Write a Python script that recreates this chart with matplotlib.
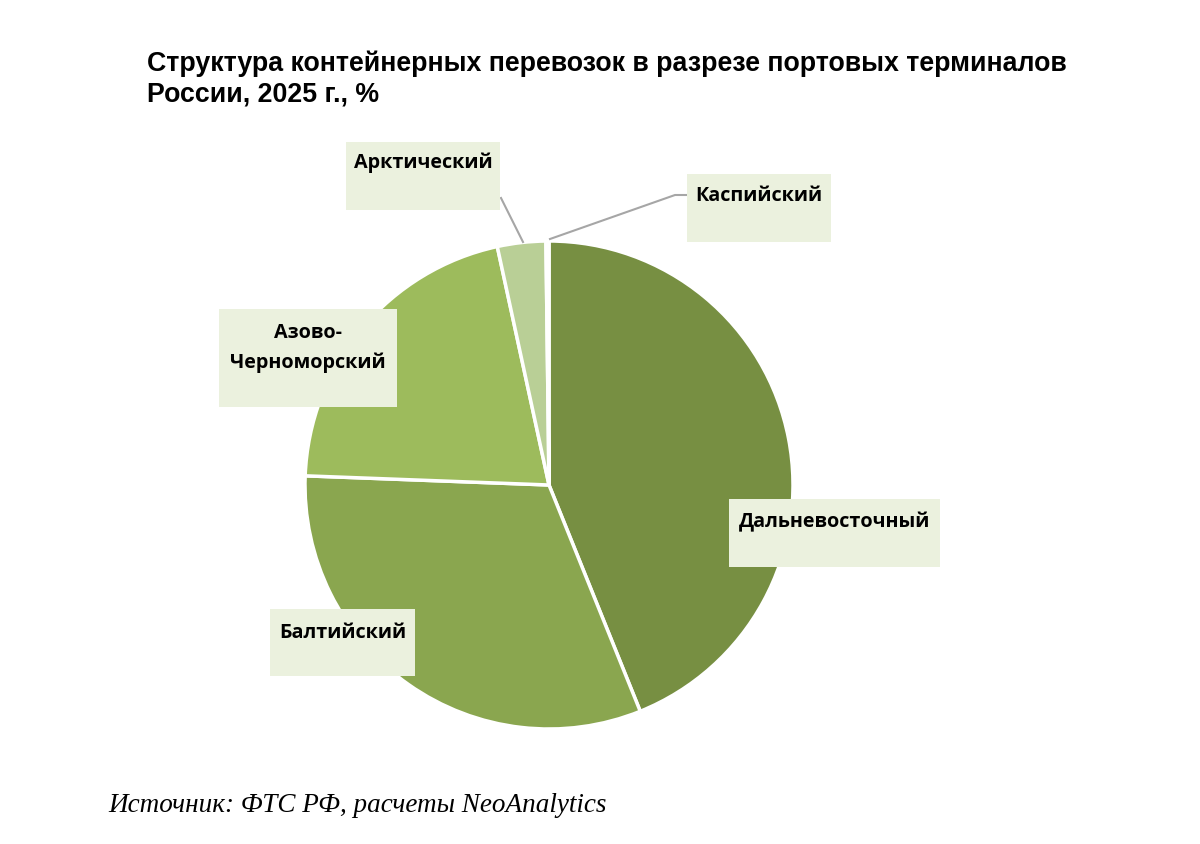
import matplotlib
matplotlib.use("Agg")
import matplotlib.pyplot as plt
from matplotlib.patches import Rectangle

# Data
categories = ["Дальневосточный", "Балтийский", "Азово-\nЧерноморский", "Арктический", "Каспийский"]
values = [43.9, 31.7, 21.0, 3.2, 0.2]
colors = ["#778F42", "#8AA64F", "#9DBB5C", "#B9CF96", "#D7E4BD"]
title = "Структура контейнерных перевозок в разрезе портовых терминалов\nРоссии, 2025 г., %"
source = "Источник: ФТС РФ, расчеты NeoAnalytics"

W, H = 1200, 845
fig = plt.figure(figsize=(W / 100, H / 100), dpi=100)
fig.patch.set_facecolor("white")

# pie axes in pixel geometry
cx, cy, r = 549, 486, 244
ax = fig.add_axes([(cx - r) / W, 1 - (cy + r) / H, 2 * r / W, 2 * r / H])
ax.pie(values, colors=colors, startangle=90, counterclock=False, radius=1.0,
       wedgeprops=dict(edgecolor="white", linewidth=2.5))
ax.set_xlim(-1, 1)
ax.set_ylim(-1, 1)
ax.set_aspect("auto")
ax.axis("off")

def px(x, y):
    return x / W, 1 - y / H

# Label boxes: (x0, y0, x1, y1) in pixels, text center y
boxes = {
    "Дальневосточный": (729, 500, 940, 568, 522),
    "Балтийский": (270, 610, 415, 677, 633),
    "Азово-\nЧерноморский": (219, 310, 397, 408, 348),
    "Арктический": (346, 143, 500, 211, 163),
    "Каспийский": (687, 175, 831, 243, 196),
}
label_font = ["Open Sans", "DejaVu Sans"]

# leader lines
line_col = "#A6A6A6"
for pts in ([(501, 199), (523, 243)], [(687, 196), (675, 196), (550, 240)]):
    xs = [p[0] / W for p in pts]
    ys = [1 - p[1] / H for p in pts]
    fig.add_artist(plt.Line2D(xs, ys, color=line_col, linewidth=1.5, transform=fig.transFigure))

for cat in categories:
    x0, y0, x1, y1, ty = boxes[cat]
    fig.add_artist(Rectangle(px(x0, y1), (x1 - x0) / W, (y1 - y0) / H,
                             transform=fig.transFigure, facecolor="#EBF1DE",
                             edgecolor="none", zorder=3))
    fig.text((x0 + x1) / 2 / W, 1 - ty / H, cat, ha="center", va="center",
             fontsize=14.2, fontweight="bold", family=label_font, zorder=4,
             linespacing=1.55)

fig.text(147 / W, 1 - 79 / H, title, ha="left", va="center", fontsize=19.3,
         fontweight="bold", family=["Liberation Sans", "DejaVu Sans"], linespacing=1.22)

fig.text(108 / W, 1 - 806 / H, source, ha="left", va="center", fontsize=19.5,
         style="italic", family=["Liberation Serif", "DejaVu Serif"])

fig.savefig("out.png", dpi=100, facecolor="white")
